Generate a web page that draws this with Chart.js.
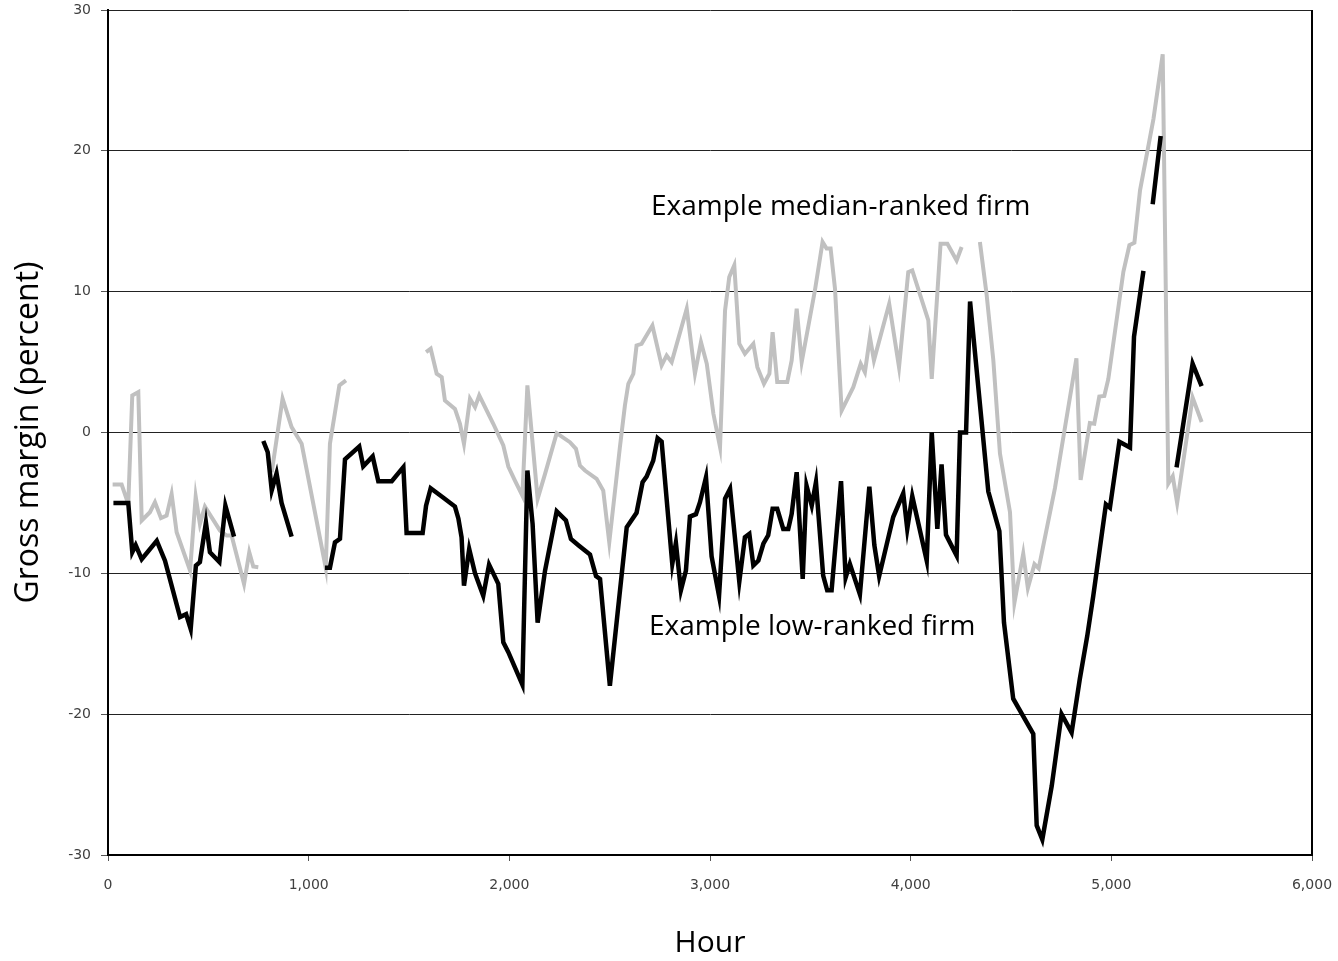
<!DOCTYPE html>
<html>
<head>
<meta charset="utf-8">
<script src="https://cdn.jsdelivr.net/npm/chart.js@4.4.1/dist/chart.umd.min.js"></script>
<style>
  html, body { margin: 0; padding: 0; background: #fff; }
  #wrap { width: 1338px; height: 961px; position: relative; }
</style>
</head>
<body>
<div id="wrap"><canvas id="chart"></canvas></div>
<script>
// ===== DATA =====
// low-ranked firm (black), null = gap in the line
const lowHours = [
  27, 101, 121, 138, 168, 243, 284, 359, 389, 412, 438, 458, 488, 508, 555, 585, 628,
  700,
  774, 796, 816, 840, 865, 915,
  1000,
  1081, 1106, 1131, 1156, 1181, 1252, 1272, 1319, 1347, 1414, 1472, 1488, 1568, 1585, 1608,
  1668, 1729, 1746, 1762, 1774, 1800, 1829, 1870, 1899, 1945, 1970, 1995, 2065, 2090, 2116,
  2141, 2178, 2236, 2282, 2307, 2344, 2402, 2432, 2452, 2501, 2585, 2634, 2664, 2684, 2717,
  2739, 2759, 2812, 2830, 2855, 2880, 2900, 2930, 2950, 2980, 3008, 3045, 3075, 3100, 3146,
  3174, 3196, 3216, 3241, 3266, 3290, 3312, 3335, 3365, 3390, 3407, 3432, 3462, 3481, 3507,
  3528, 3564, 3584, 3606, 3653, 3676, 3697, 3747, 3794, 3819, 3843, 3913, 3963, 3983, 4008,
  4080, 4105, 4133, 4154, 4176, 4229, 4246, 4276, 4296, 4387, 4442, 4465, 4511, 4611, 4628,
  4656, 4703, 4752, 4802, 4843, 4880, 4910, 4973, 4993, 5040, 5093, 5113, 5160,
  5185,
  5206, 5246,
  5290,
  5325, 5405, 5450
];
const lowValues = [
  -5.0, -5.0, -8.5, -8.0, -9.0, -7.7, -9.1, -13.1, -12.9, -13.95, -9.45, -9.2, -6.4, -8.5, -9.2, -5.2, -7.4,
  null,
  -0.6, -1.4, -4.1, -2.9, -5.0, -7.4,
  null,
  -9.6, -9.6, -7.8, -7.55, -1.9, -1.0, -2.4, -1.7, -3.46, -3.46, -2.46, -7.13, -7.13, -5.2, -3.96,
  -4.6, -5.26, -6.1, -7.44, -10.87, -8.27, -10.0, -11.6, -9.38, -10.75, -14.9, -15.6, -17.9, -2.7, -6.5,
  -13.5, -9.8, -5.6, -6.25, -7.56, -8.0, -8.67, -10.2, -10.4, -17.98, -6.73, -5.7, -3.53, -3.13, -2.0,
  -0.4, -0.64, -9.33, -7.84, -11.2, -9.8, -5.97, -5.8, -4.95, -3.18, -8.8, -11.6, -4.7, -4.0, -10.6,
  -7.44, -7.2, -9.45, -9.1, -7.9, -7.3, -5.42, -5.42, -6.85, -6.85, -5.78, -2.82, -10.4, -3.77, -5.19,
  -3.53, -10.16, -11.2, -11.2, -3.46, -10.3, -9.33, -11.5, -3.84, -8.0, -10.2, -6.0, -4.32, -6.85, -4.52,
  -9.1, 0.0, -6.85, -2.27, -7.27, -8.74, 0.0, 0.0, 9.3, -4.19, -7.0, -13.5, -18.9, -21.4, -27.9,
  -28.9, -25.1, -20.0, -21.3, -17.5, -14.45, -11.6, -5.1, -5.34, -0.65, -1.06, 6.8, 11.48,
  null,
  16.2, 21.06,
  null,
  -2.47, 4.89, 3.29
];

// median-ranked firm (grey)
const medHours = [
  23, 68, 101, 121, 151, 168, 209, 234, 264, 292, 317, 342, 409, 437, 458, 483, 558, 591, 616,
  678, 704, 724, 749,
  780,
  816, 870, 915, 965, 1085, 1106, 1153, 1186,
  1400,
  1585, 1608, 1638, 1663, 1679, 1729, 1754, 1774, 1804, 1829, 1850, 1920, 1970, 1995, 2028,
  2065, 2090, 2141, 2178, 2236, 2302, 2332, 2352, 2377, 2435, 2468, 2498, 2551, 2576, 2593,
  2618, 2634, 2659, 2713, 2759, 2784, 2809, 2884, 2925, 2955, 2984, 3017, 3050, 3075, 3096,
  3121, 3146, 3174, 3216, 3236, 3269, 3296, 3312, 3335, 3385, 3407, 3432, 3457, 3523, 3561,
  3581, 3601, 3623, 3656, 3714, 3751, 3772, 3797, 3817, 3893, 3942, 3988, 4008, 4088, 4105,
  4149, 4183, 4229, 4254,
  4300,
  4345, 4378, 4412, 4445, 4495, 4517, 4561, 4584, 4617, 4638, 4719, 4826, 4847, 4893, 4915,
  4940, 4965, 4985, 5060, 5090, 5115, 5143, 5210, 5256, 5284, 5306, 5328, 5405, 5450
];
const medValues = [
  -3.7, -3.7, -5.07, 2.63, 2.87, -6.25, -5.66, -4.95, -6.07, -5.9, -4.36, -7.08, -9.8, -4.55, -6.49, -5.26, -6.97, -7.32, -7.32,
  -10.76, -8.5, -9.52, -9.57,
  null,
  -2.82, 2.4, 0.38, -0.8, -9.6, -0.8, 3.34, 3.7,
  null,
  5.71, 5.95, 4.17, 3.93, 2.27, 1.68, 0.62, -0.8, 2.4, 1.8, 2.63, 0.62, -0.92, -2.42, -3.41,
  -4.48, 3.34, -4.71, -2.94, -0.05, -0.69, -1.16, -2.35, -2.7, -3.29, -4.12, -7.8, -1.04, 1.92, 3.46,
  4.17, 6.18, 6.3, 7.6, 4.76, 5.47, 5.0, 8.79, 4.17, 6.42, 4.88, 1.33, -1.04, 8.67, 11.04,
  11.87, 6.3, 5.59, 6.3, 4.64, 3.46, 4.17, 7.13, 3.58, 3.58, 5.12, 8.79, 5.0, 10.1, 13.53,
  13.06, 13.06, 10.2, 1.56, 3.22, 4.88, 4.29, 6.77, 5.12, 9.14, 4.64, 11.39, 11.51, 7.96, 3.81,
  13.4, 13.4, 12.22, 13.17,
  null,
  13.53, 9.86, 5.12, -1.5, -5.66, -12.1, -8.6, -11.05, -9.35, -9.65, -3.95, 5.27, -3.37, 0.68, 0.63,
  2.55, 2.6, 3.8, 11.41, 13.3, 13.47, 17.2, 22.27, 26.85, -3.62, -3.1, -5.01, 2.48, 0.75
];

// tick settings
const xMin = 0, xMax = 6000, xStep = 1000;
const yMin = -30, yMax = 30, yStep = 10;

// text labels next to the lines: [text, hour, value]
const notes = [
  ["Example median-ranked firm", 2706, 16.0],
  ["Example low-ranked firm", 2696, -13.8]
];

function points(hours, values) {
  return hours.map((h, i) => ({ x: h, y: values[i] }));
}

// no extra room for overhanging tick labels
function noScalePadding(s) {
  s.paddingTop = 0;
  s.paddingRight = 0;
  s.paddingBottom = 0;
  s.paddingLeft = 0;
}

// ===== PLUGINS =====
const frame = {
  id: "frame",
  afterDatasetsDraw(chart) {
    const { ctx, chartArea: a } = chart;
    ctx.save();
    ctx.strokeStyle = "#000";
    ctx.lineWidth = 2;
    ctx.beginPath();
    ctx.moveTo(a.right, a.top);
    ctx.lineTo(a.right, a.bottom);
    ctx.stroke();
    ctx.restore();
  },
  afterDraw(chart) {
    const { ctx, scales } = chart;
    ctx.save();
    ctx.fillStyle = "#000";
    ctx.font = "28px 'Open Sans'";
    ctx.textAlign = "left";
    ctx.textBaseline = "middle";
    notes.forEach(n => {
      ctx.fillText(n[0], scales.x.getPixelForValue(n[1]), scales.y.getPixelForValue(n[2]));
    });
    ctx.restore();
  }
};

// ===== CHART =====
const ctx = document.getElementById("chart").getContext("2d");

const chart = new Chart(ctx, {
  type: "scatter",
  data: {
    datasets: [
      {
        label: "Example low-ranked firm",
        data: points(lowHours, lowValues),
        showLine: true,
        borderColor: "#000000",
        borderWidth: 4.5,
        pointRadius: 0,
        spanGaps: false,
        tension: 0
      },
      {
        label: "Example median-ranked firm",
        data: points(medHours, medValues),
        showLine: true,
        borderColor: "#c0c0c0",
        borderWidth: 4,
        pointRadius: 0,
        spanGaps: false,
        tension: 0
      }
    ]
  },
  options: {
    responsive: true,
    maintainAspectRatio: false,
    animation: false,
    layout: { padding: { top: 10, right: 26, left: 0, bottom: 0 } },
    plugins: {
      legend: { display: false },
      tooltip: { enabled: false }
    },
    scales: {
      x: {
        type: "linear",
        min: xMin,
        max: xMax,
        afterFit: s => { s.height = 106; noScalePadding(s); },
        ticks: {
          stepSize: xStep,
          padding: 16,
          color: "#404040",
          font: { family: "DejaVu Sans", size: 14 },
          maxRotation: 0,
          callback: v => v.toLocaleString("en-US")
        },
        grid: { drawOnChartArea: false, drawTicks: true, tickLength: 6, color: "#555" },
        border: { color: "#000", width: 2 },
        title: {
          display: true,
          text: "Hour",
          color: "#000",
          font: { family: "Open Sans", size: 30 },
          padding: { top: 0, bottom: 0 }
        }
      },
      y: {
        min: yMin,
        max: yMax,
        afterFit: s => { s.width = 108; noScalePadding(s); },
        ticks: {
          stepSize: yStep,
          padding: 10,
          color: "#404040",
          font: { family: "DejaVu Sans", size: 14 }
        },
        grid: { color: "#222", lineWidth: 1, tickLength: 7, tickColor: "#555" },
        border: { color: "#000", width: 2 },
        title: {
          display: true,
          text: "Gross margin (percent)",
          color: "#000",
          font: { family: "Open Sans", size: 32 },
          padding: { top: 10, bottom: 0 }
        }
      }
    }
  },
  plugins: [frame]
});
</script>
</body>
</html>
